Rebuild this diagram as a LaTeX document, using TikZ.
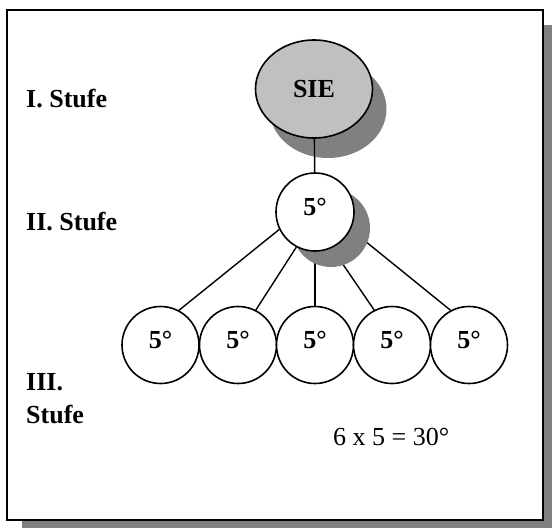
\documentclass[tikz,border=0pt]{standalone}
\usepackage{fontspec}
\setmainfont{Liberation Serif}
\usetikzlibrary{shapes.geometric,shadows,backgrounds}

\definecolor{shadowgray}{HTML}{808080}
\definecolor{siegray}{HTML}{C0C0C0}

\tikzset{
  stufe/.style={font=\fontsize{26}{33}\selectfont\bfseries, inner sep=0pt, align=left},
  kreis/.style={circle, draw, line width=1.6pt, fill=white, inner sep=0pt,
    font=\fontsize{26}{30}\selectfont\bfseries, text depth=10pt},
  schatten/.style={drop shadow={shadow xshift=16pt, shadow yshift=-16pt, fill=shadowgray, opacity=1}}
}

\begin{document}
\begin{tikzpicture}[x=1pt,y=-1pt]
            \useasboundingbox (0,0) rectangle (552,528);

            % Labels
            \node[stufe, anchor=base west] (stufeI) at (26,107) {I. Stufe};
            \node[stufe, anchor=base west] (stufeII) at (26,230) {II. Stufe};
            \node[stufe, anchor=north west] (stufeIII) at (26,373) {III.\\Stufe};
            \node[font=\fontsize{26}{30}\selectfont, inner sep=0pt, anchor=base west] (rechnung) at (333,445) {6 x 5 = 30°};

            % Circles
            \node[ellipse, draw, line width=1.6pt, fill=siegray, minimum width=117pt, minimum height=98pt,
              font=\fontsize{26}{30}\selectfont\bfseries,
              drop shadow={shadow xshift=14pt, shadow yshift=-20pt, fill=shadowgray, opacity=1}] (sie) at (314,89) {SIE};
            \node[kreis, schatten, minimum size=78pt] (ii) at (315,212) {5°};
            \node[kreis, minimum size=77pt] (c1) at (160.5,345) {5°};
            \node[kreis, minimum size=77pt] (c2) at (238,345) {5°};
            \node[kreis, minimum size=77pt] (c3) at (315,345) {5°};
            \node[kreis, minimum size=77pt] (c4) at (392,345) {5°};
            \node[kreis, minimum size=77pt] (c5) at (469,345) {5°};

            \begin{pgfonlayer}{background}
            % Frame
            \fill[shadowgray] (22,25) rectangle (552,528);
            \draw[line width=1.8pt, fill=white] (7,10) rectangle (543,520);

            % Lines to third level
            \draw[line width=1.4pt] (ii.206) -- (c1.62);
            \draw[line width=1.4pt] (ii.242) -- (c2.63);
            \draw[line width=1.4pt] (ii.south) -- (c3.north);
            \draw[line width=1.4pt] (ii.295) -- (c4.117);
            \draw[line width=1.4pt] (ii.334) -- (c5.118);
            \end{pgfonlayer}

            % Line to second level
            \draw[line width=1.4pt] (sie) -- (ii);

        \end{tikzpicture}
\end{document}
